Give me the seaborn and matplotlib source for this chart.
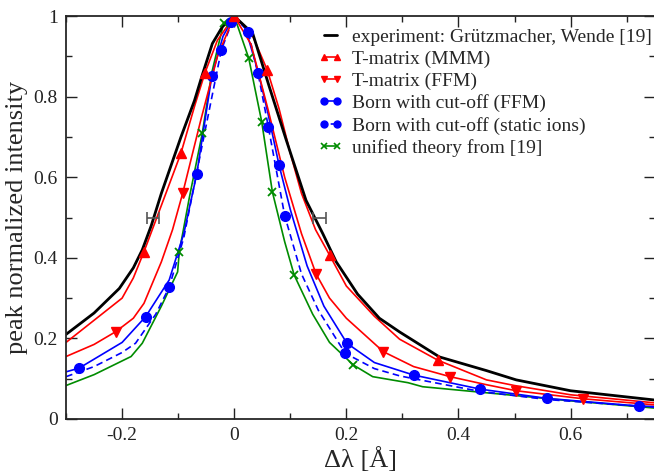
import numpy as np
import pandas as pd
import seaborn as sns
import matplotlib
matplotlib.use('Agg')
import matplotlib.pyplot as plt
from matplotlib.lines import Line2D
from matplotlib.ticker import MultipleLocator

# experiment (Gruetzmacher, Wende)
exp_x = [-0.30, -0.25, -0.205, -0.18, -0.164, -0.148, -0.13, -0.11, -0.095, -0.071, -0.057, -0.039, -0.021, 0.0,
         0.033, 0.0625, 0.092, 0.128, 0.158, 0.182, 0.22, 0.259, 0.295, 0.366, 0.45, 0.503, 0.60, 0.75]
exp_y = [0.21, 0.263, 0.324, 0.375, 0.42, 0.48, 0.56, 0.64, 0.70, 0.79, 0.854, 0.932, 0.974, 1.0,
         0.957, 0.825, 0.696, 0.543, 0.46, 0.39, 0.31, 0.25, 0.216, 0.154, 0.12, 0.097, 0.07, 0.047]

# T-matrix (MMM)
mmm_x = [-0.30, -0.25, -0.20, -0.18, -0.161, -0.13, -0.095, -0.07, -0.052, -0.03, 0.0, 0.03, 0.059,
         0.08, 0.10, 0.12, 0.145, 0.17, 0.20, 0.25, 0.295, 0.363, 0.45, 0.50, 0.60, 0.75]
mmm_y = [0.19, 0.245, 0.30, 0.35, 0.415, 0.53, 0.66, 0.78, 0.86, 0.94, 1.0, 0.96, 0.866,
         0.77, 0.66, 0.56, 0.47, 0.407, 0.33, 0.255, 0.198, 0.146, 0.097, 0.083, 0.06, 0.04]
mmm_mx = [-0.161, -0.095, -0.052, 0.0, 0.059, 0.17, 0.363]
mmm_my = [0.415, 0.66, 0.86, 1.0, 0.866, 0.407, 0.146]

# T-matrix (FFM)
ffm_x = [-0.30, -0.25, -0.211, -0.18, -0.161, -0.13, -0.11, -0.092, -0.06, -0.03, 0.0, 0.03, 0.06,
         0.09, 0.12, 0.146, 0.17, 0.20, 0.266, 0.32, 0.385, 0.45, 0.503, 0.623, 0.75]
ffm_y = [0.155, 0.185, 0.217, 0.25, 0.287, 0.39, 0.47, 0.56, 0.74, 0.90, 1.0, 0.93, 0.77,
         0.60, 0.46, 0.36, 0.30, 0.25, 0.167, 0.13, 0.105, 0.085, 0.07, 0.05, 0.035]
ffm_mx = [-0.211, -0.092, 0.0, 0.146, 0.266, 0.385, 0.503, 0.623]
ffm_my = [0.217, 0.56, 1.0, 0.36, 0.167, 0.105, 0.07, 0.05]

# Born with cut-off (FFM)
born_x = [-0.30, -0.277, -0.20, -0.158, -0.116, -0.09, -0.067, -0.04, -0.02, 0.0, 0.02, 0.043, 0.06,
          0.08, 0.10, 0.13, 0.16, 0.201, 0.25, 0.32, 0.439, 0.558, 0.722, 0.75]
born_y = [0.117, 0.126, 0.19, 0.254, 0.345, 0.46, 0.607, 0.851, 0.95, 1.0, 0.97, 0.86, 0.76,
          0.63, 0.52, 0.38, 0.28, 0.188, 0.14, 0.109, 0.074, 0.051, 0.032, 0.031]
born_mx = [-0.277, -0.158, -0.067, -0.04, -0.006, 0.043, 0.08, 0.201, 0.32, 0.439, 0.558, 0.722]
born_my = [0.126, 0.254, 0.607, 0.851, 0.986, 0.86, 0.63, 0.188, 0.109, 0.074, 0.051, 0.032]

# Born with cut-off (static ions)
stat_x = [-0.30, -0.25, -0.20, -0.176, -0.14, -0.116, -0.09, -0.06, -0.023, 0.0, 0.025, 0.045, 0.061,
          0.09, 0.12, 0.15, 0.198, 0.25, 0.295, 0.32, 0.44, 0.56, 0.75]
stat_y = [0.105, 0.13, 0.165, 0.188, 0.26, 0.327, 0.45, 0.66, 0.916, 1.0, 0.961, 0.84, 0.724,
          0.505, 0.36, 0.27, 0.163, 0.125, 0.107, 0.10, 0.068, 0.048, 0.029]
stat_mx = [-0.116, -0.023, 0.025, 0.061, 0.09, 0.198]
stat_my = [0.327, 0.916, 0.961, 0.724, 0.505, 0.163]

# unified theory from [19]
uni_x = [-0.30, -0.25, -0.184, -0.164, -0.13, -0.101, -0.098, -0.08, -0.057, -0.04, -0.019, 0.0,
         0.026, 0.049, 0.068, 0.09, 0.107, 0.14, 0.17, 0.2125, 0.247, 0.31, 0.336, 0.45, 0.60, 0.75]
uni_y = [0.083, 0.11, 0.155, 0.188, 0.28, 0.365, 0.415, 0.55, 0.709, 0.86, 0.982, 1.0,
         0.895, 0.738, 0.564, 0.44, 0.357, 0.26, 0.19, 0.134, 0.105, 0.09, 0.08, 0.065, 0.045, 0.027]
uni_mx = [-0.098, -0.057, -0.019, 0.026, 0.049, 0.068, 0.107, 0.2125]
uni_my = [0.415, 0.709, 0.982, 0.895, 0.738, 0.564, 0.357, 0.134]

# half width error bars of the experiment
err_x = [-0.145, 0.152]
err_y = [0.5, 0.5]
err_dx = [0.011, 0.012]

legend_labels = ['experiment: Grützmacher, Wende [19]', 'T-matrix (MMM)', 'T-matrix (FFM)',
                 'Born with cut-off (FFM)', 'Born with cut-off (static ions)', 'unified theory from [19]']

sns.set_style('ticks')
plt.rcParams['font.family'] = ['Liberation Serif', 'DejaVu Serif']

fig = plt.figure(figsize=(6.54, 4.75), dpi=100)
ax = fig.add_axes([0.101, 0.118, 0.9, 0.848])

red, blue, green = '#ff0000', '#0000ff', '#008c00'

def curve(x, y, color, lw, ls='-'):
    df = pd.DataFrame({'x': x, 'y': y})
    sns.lineplot(data=df, x='x', y='y', sort=False, estimator=None, color=color,
                 linewidth=lw, linestyle=ls, ax=ax)

curve(uni_x, uni_y, green, 1.2)
curve(stat_x, stat_y, blue, 1.2, (0, (4, 2.5)))
curve(born_x, born_y, blue, 1.2)
curve(ffm_x, ffm_y, red, 1.2)
curve(mmm_x, mmm_y, red, 1.2)
curve(exp_x, exp_y, 'black', 2.0)

ax.plot(uni_mx, uni_my, ls='none', marker='x', color=green, ms=6, mew=1.3)
ax.plot(stat_mx, stat_my, ls='none', marker='o', color=blue, ms=7)
ax.plot(born_mx, born_my, ls='none', marker='o', color=blue, ms=7)
ax.plot(ffm_mx, ffm_my, ls='none', marker='v', color=red, ms=7)
ax.plot(mmm_mx, mmm_my, ls='none', marker='^', color=red, ms=7)

ax.errorbar(err_x, err_y, xerr=err_dx, fmt='none', ecolor='#555555', elinewidth=1.2,
            capsize=4, capthick=1.2)

ax.set_xlim(-0.3, 0.75)
ax.set_ylim(0, 1)
ax.xaxis.set_minor_locator(MultipleLocator(0.1))
ax.yaxis.set_minor_locator(MultipleLocator(0.1))
ax.set_xticks([-0.2, 0, 0.2, 0.4, 0.6])
ax.set_xticklabels(['-0.2', '0', '0.2', '0.4', '0.6'])
ax.set_yticks([0, 0.2, 0.4, 0.6, 0.8, 1.0])
ax.set_yticklabels(['0', '0.2', '0.4', '0.6', '0.8', '1'])
ax.tick_params(which='both', direction='in', top=True, right=True, labelsize=14, colors='#222222', pad=6)
ax.tick_params(which='major', length=8, width=1)
ax.tick_params(which='minor', length=4, width=1)
for s in ax.spines.values():
    s.set_linewidth(1.3)
ax.spines['right'].set_visible(False)

ax.set_xlabel('Δλ [Å]', fontsize=19, labelpad=2)
ax.set_ylabel('peak normalized intensity', fontsize=19, labelpad=4)

handles = [
    Line2D([], [], color='black', lw=2.0),
    Line2D([], [], color=red, lw=1.2, marker='^', ms=5),
    Line2D([], [], color=red, lw=1.2, marker='v', ms=5),
    Line2D([], [], color=blue, lw=1.2, marker='o', ms=5),
    Line2D([], [], color=blue, lw=1.2, ls=(0, (2, 2)), marker='o', ms=5),
    Line2D([], [], color=green, lw=1.2, marker='x', ms=4.5, mew=1.2),
]
ax.legend(handles, legend_labels, loc='upper right', bbox_to_anchor=(1.0, 0.978), frameon=False,
          fontsize=14, numpoints=2, handlelength=1.3, handletextpad=0.45, labelspacing=0.23,
          borderaxespad=0.0, borderpad=0.15)

fig.savefig('out.png', dpi=100)
